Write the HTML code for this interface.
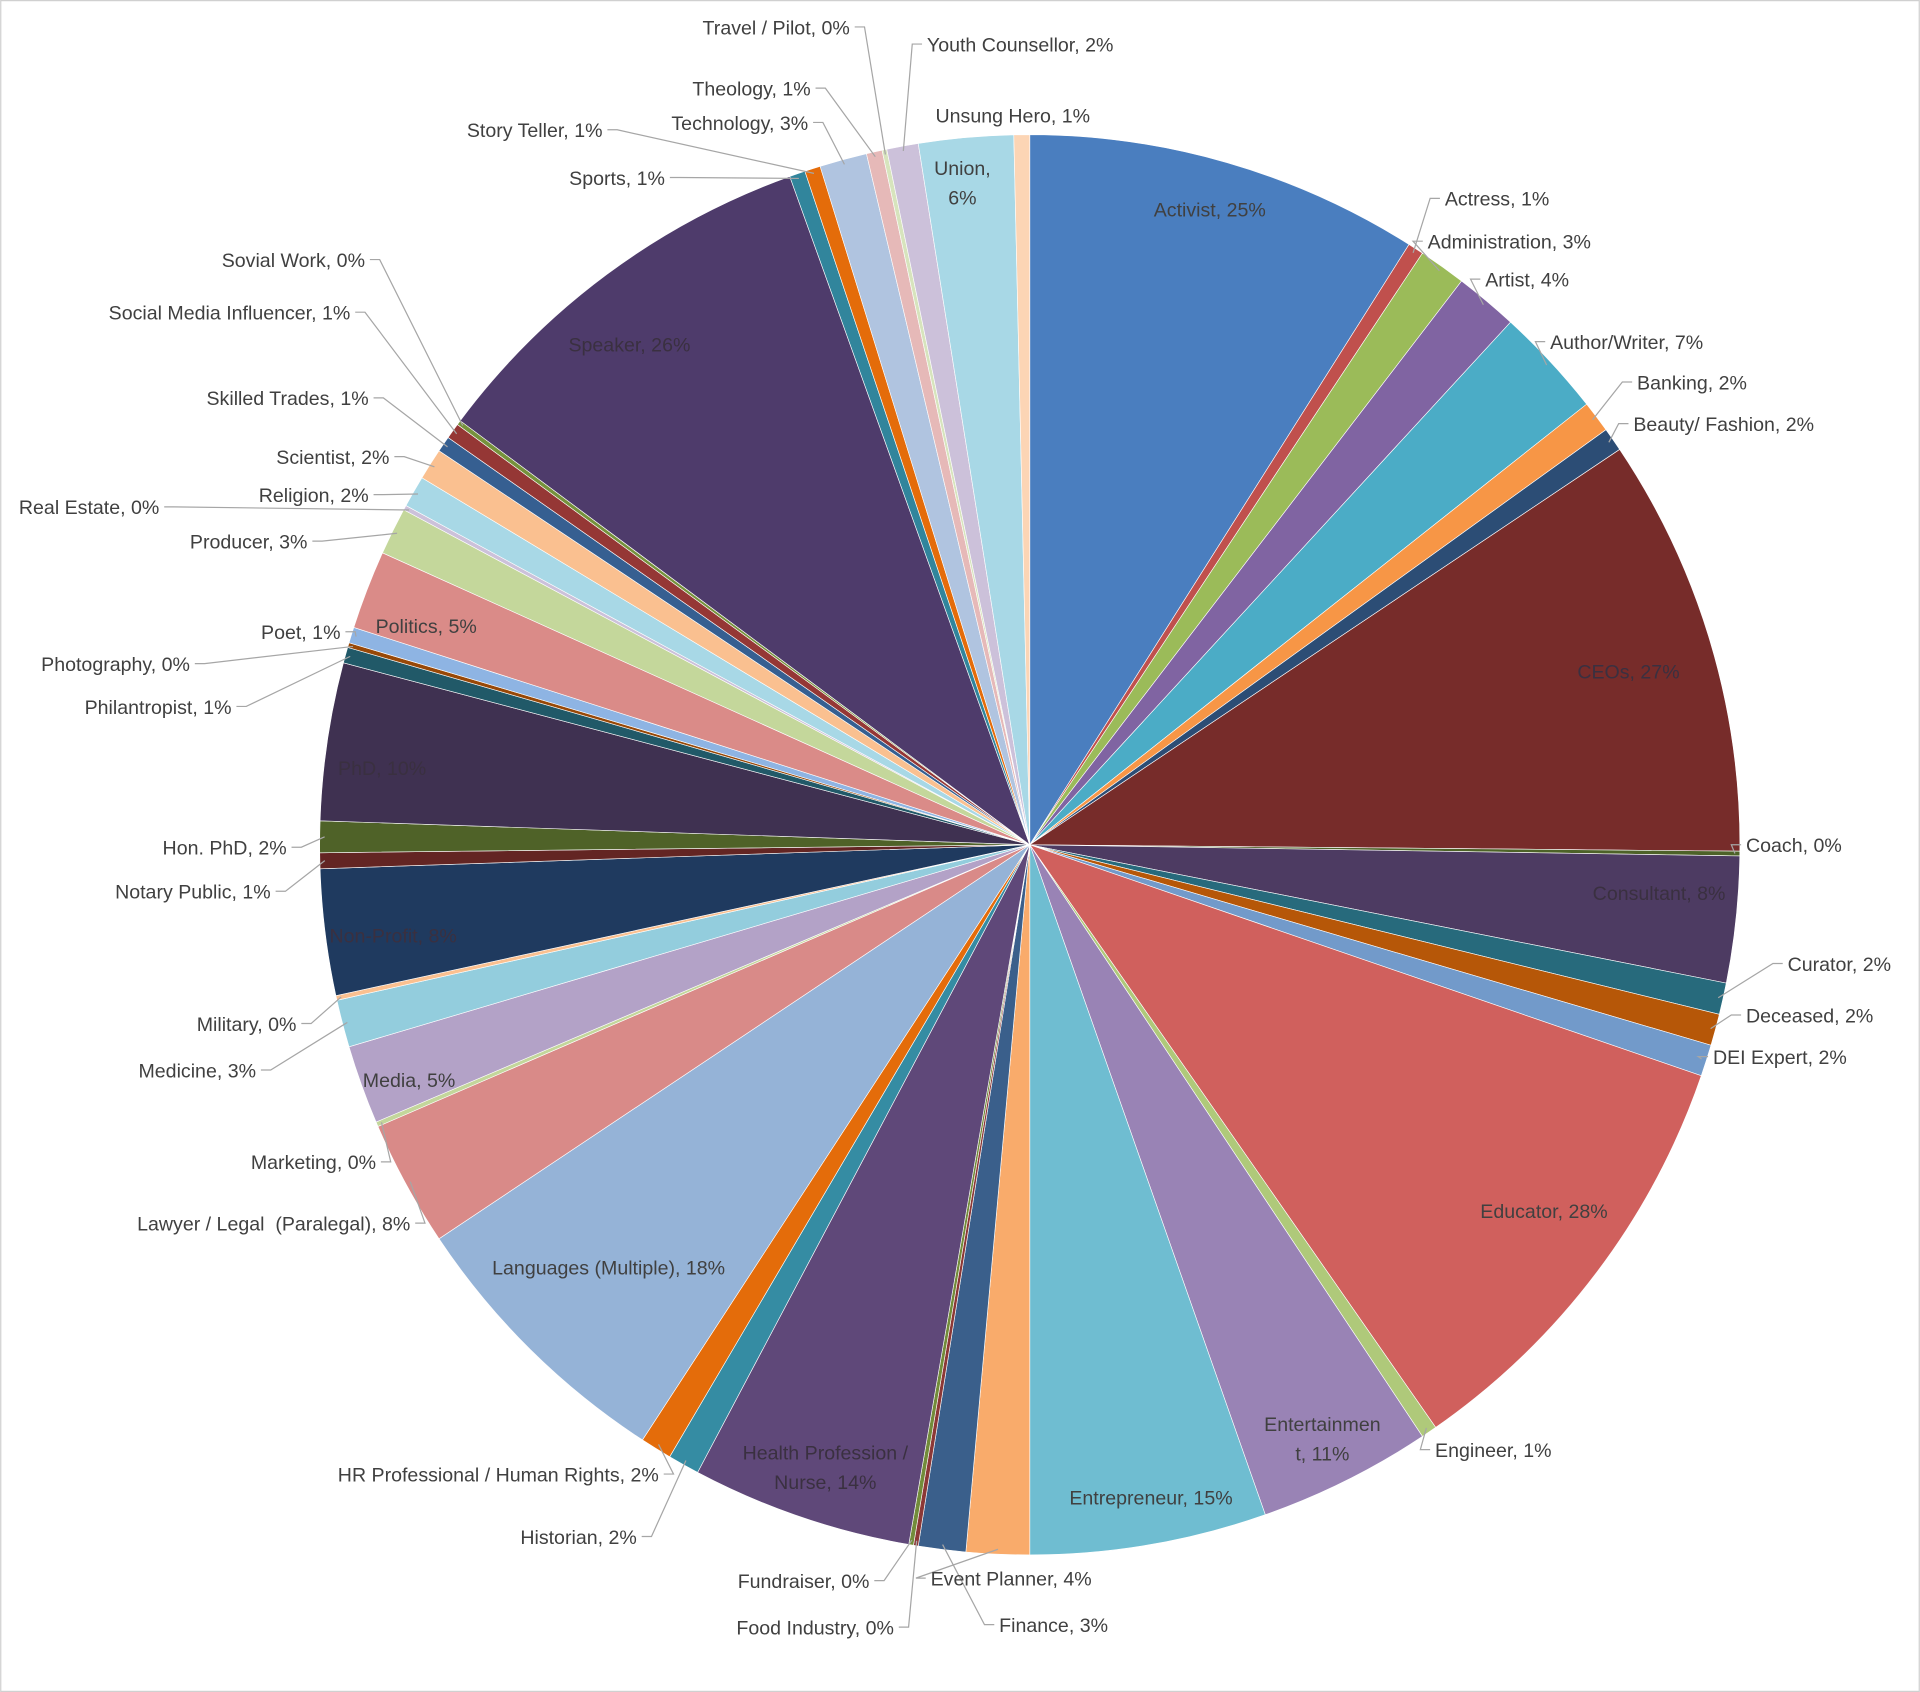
<!DOCTYPE html>
<html><head><meta charset="utf-8"><style>
html,body{margin:0;padding:0;background:#fff;}
svg{display:block;}
text{font-family:"Liberation Sans",sans-serif;font-size:16px;fill:#404040;white-space:pre;}
</style></head><body>
<svg id="chart" width="1920" height="1692" viewBox="0 0 1568 1382" xmlns="http://www.w3.org/2000/svg">
<rect x="0.5" y="0.5" width="1567" height="1381" fill="#fff" stroke="#d0d0d0" stroke-width="1"/>
<g id="slices"></g><g id="leaders"></g><g id="labels"></g>
</svg>
<script>
const categories=["Activist","Actress","Administration","Artist","Author/Writer","Banking","Beauty/ Fashion","CEOs","Coach","Consultant","Curator","Deceased","DEI Expert","Educator","Engineer","Entertainment","Entrepreneur","Event Planner","Finance","Food Industry","Fundraiser","Health Profession / Nurse","Historian","HR Professional / Human Rights","Languages (Multiple)","Lawyer / Legal  (Paralegal)","Marketing","Media","Medicine","Military","Non-Profit","Notary Public","Hon. PhD","PhD","Philantropist","Photography","Poet","Politics","Producer","Real Estate","Religion","Scientist","Skilled Trades","Social Media Influencer","Sovial Work","Speaker","Sports","Story Teller","Technology","Theology","Travel / Pilot","Youth Counsellor","Union","Unsung Hero"];
const values=[25,1,3,4,7,2,1.5,26.6,0.3,8,2,2,2,28,1,11,15,4,3,0.3,0.3,14,2,2,18,8,0.3,5,3,0.3,8,1,2,10,1,0.3,1,5,3,0.3,2,2,1,1,0.3,26,1,1,3,1,0.3,2,6,1];
const percentLabels=["25%","1%","3%","4%","7%","2%","2%","27%","0%","8%","2%","2%","2%","28%","1%","11%","15%","4%","3%","0%","0%","14%","2%","2%","18%","8%","0%","5%","3%","0%","8%","1%","2%","10%","1%","0%","1%","5%","3%","0%","2%","2%","1%","1%","0%","26%","1%","1%","3%","1%","0%","2%","6%","1%"];
const colors=["#4a7ebf","#c0504d","#9bbb59","#8064a2","#4bacc6","#f79646","#2c4d75","#772c2a","#4d6228","#4d3b62","#276a7c","#b65708","#729aca","#d0605d","#afc97a","#9983b5","#6fbdd1","#f9ab6b","#3a5f8b","#8c3836","#728c3a","#5f4879","#358ca3","#e46c0a","#95b3d7","#d98a88","#c3d69b","#b3a2c7","#93cddd","#fac090","#1f3a5f","#632523","#4f6228","#3f3151","#215968","#984807","#8eb4e3","#da8b88","#c4d79b","#ccc1da","#a8d8e6","#fac090","#365f91","#953735","#76923c","#4e3b6b","#31859c","#e46c0a","#b0c4e0","#e6b9b8","#d7e4bd","#ccc1da","#a8d8e6","#fcd5b5"];
const labelLayout=[
[0,988,171,"middle",1],[1,1180,162,"start",0],[2,1166,197,"start",0],[3,1213,228,"start",0],[4,1266,279,"start",0],[5,1337,312,"start",0],[6,1334,346,"start",0],[7,1330,548,"middle",1],[8,1426,690,"start",0],[9,1355,729,"middle",1],[10,1460,787,"start",0],[11,1426,829,"start",0],[12,1399,863,"start",0],[13,1261,989,"middle",1],[14,1172,1184,"start",0],[15,1080,1163,"middle",1,["Entertainmen","t, 11%"]],[16,940,1223,"middle",1],[17,760,1289,"start",0],[18,816,1327,"start",0],[19,730,1329,"end",0],[20,710,1291,"end",0],[21,674,1186,"middle",1,["Health Profession /","Nurse, 14%"]],[22,520,1255,"end",0],[23,538,1204,"end",0],[24,497,1035,"middle",1],[25,335,999,"end",0],[26,307,949,"end",0],[27,334,882,"middle",1],[28,209,874,"end",0],[29,242,836,"end",0],[30,321,764,"middle",1],[31,221,728,"end",0],[32,234,692,"end",0],[33,312,627,"middle",1],[34,189,577,"end",0],[35,155,542,"end",0],[36,278,516,"end",0],[37,348,511,"middle",1],[38,251,442,"end",0],[39,130,414,"end",0],[40,301,404,"end",0],[41,318,373,"end",0],[42,301,325,"end",0],[43,286,255,"end",0],[44,298,212,"end",0],[45,514,281,"middle",1],[46,543,145,"end",0],[47,492,106,"end",0],[48,660,100,"end",0],[49,662,72,"end",0],[50,694,22,"end",0],[51,757,36,"start",0],[52,786,137,"middle",1,["Union,","6%"]],[53,764,94,"start",2]
];
const darkText=[7,9,30,33,45,21];
const cx=841,cy=690,R=580;
const NS="http://www.w3.org/2000/svg";
const total=values.reduce((a,b)=>a+b,0);
function angleScale(v){return v/total*2*Math.PI;}
function px(a,r){return cx+r*Math.sin(a);}
function py(a,r){return cy-r*Math.cos(a);}
const mids=[];
let acc=0;
const gS=document.getElementById('slices');
values.forEach((v,i)=>{
  const a0=angleScale(acc),a1=angleScale(acc+v);acc+=v;mids.push((a0+a1)/2);
  const large=(a1-a0)>Math.PI?1:0;
  const p=document.createElementNS(NS,'path');
  p.setAttribute('d',`M${cx},${cy}L${px(a0,R)},${py(a0,R)}A${R},${R} 0 ${large} 1 ${px(a1,R)},${py(a1,R)}Z`);
  p.setAttribute('fill',colors[i%colors.length]);
  p.setAttribute('stroke','#fff');p.setAttribute('stroke-width','0.5');
  
  
  gS.appendChild(p);
});
const gL=document.getElementById('labels'),gLd=document.getElementById('leaders');
labelLayout.forEach(l=>{
  const [i,x,y,anc,inside,lines]=l;
  const t=document.createElementNS(NS,'text');
  t.setAttribute('text-anchor',anc);
  
  
  if(darkText.includes(i)) t.style.fill='#3a3040';
  const txt=lines||[categories[i]+", "+percentLabels[i]];
  txt.forEach((s,k)=>{const ts=document.createElementNS(NS,'tspan');ts.setAttribute('x',x);ts.setAttribute('y',y+6+k*24);ts.textContent=s;t.appendChild(ts);});
  gL.appendChild(t);
  if(inside===0){
    const m=mids[i];
    const ex=px(m,R-4),ey=py(m,R-4);
    const sx=anc==="end"?x+4:x-4;
    const hx=anc==="end"?sx+8:sx-8;
    const ln=document.createElementNS(NS,'polyline');
    ln.setAttribute('points',`${sx},${y} ${hx},${y} ${ex},${ey}`);
    ln.setAttribute('fill','none');ln.setAttribute('stroke','#a6a6a6');ln.setAttribute('stroke-width','1');
    
    
    gLd.appendChild(ln);
  }
});
</script>
</body></html>
